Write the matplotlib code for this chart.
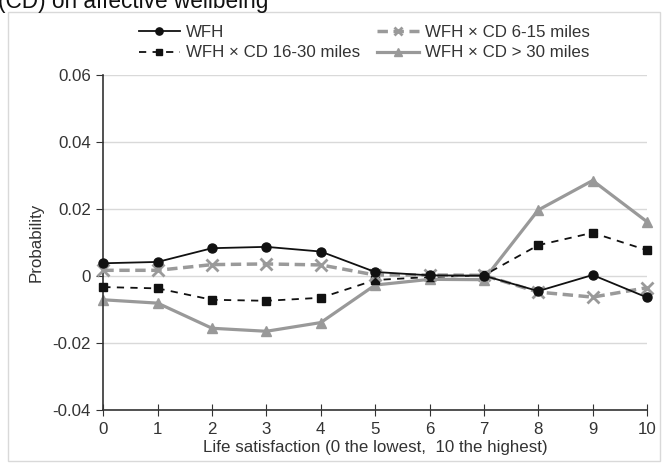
import matplotlib
matplotlib.use("Agg")
import matplotlib.pyplot as plt
from matplotlib.patches import Rectangle

plt.rcParams['font.family'] = ['Liberation Sans', 'DejaVu Sans']

x = list(range(11))
wfh = [0.0038, 0.0042, 0.0083, 0.0087, 0.0073, 0.0012, 0.0002, 0.0001, -0.0045, 0.0003, -0.0064]
cd_6_15 = [0.0017, 0.0017, 0.0034, 0.0036, 0.0033, 0.0003, 0.0003, 0.0002, -0.0048, -0.0063, -0.0035]
cd_16_30 = [-0.0033, -0.0037, -0.0071, -0.0074, -0.0065, -0.0012, -0.0003, 0.0002, 0.0092, 0.0129, 0.0077]
cd_30 = [-0.0071, -0.0081, -0.0156, -0.0165, -0.0139, -0.0027, -0.0010, -0.0011, 0.0197, 0.0285, 0.0162]
yticks = [-0.04, -0.02, 0, 0.02, 0.04, 0.06]
ytick_labels = ['-0.04', '-0.02', '0', '0.02', '0.04', '0.06']
xlabel = 'Life satisfaction (0 the lowest,  10 the highest)'
ylabel = 'Probability'
title = '(CD) on affective wellbeing'

fig = plt.figure(figsize=(6.62, 4.63), dpi=100)
fig.patch.set_facecolor('white')
fig.patches.append(Rectangle((8/662, 1-461/463), (660-8)/662, (461-12)/463,
                             transform=fig.transFigure, fill=False,
                             edgecolor='#d9d9d9', linewidth=1.0))
fig.text(-0.003, 1-8/463, title, fontsize=16.3, color='#111111', ha='left', va='baseline')

ax = fig.add_axes([103.3/662, 1-410/463, (647-103.3)/662, (410-75)/463])

l1, = ax.plot(x, wfh, color='#111111', lw=1.3, marker='o', ms=6.5, label='WFH', zorder=5)
l2, = ax.plot(x, cd_6_15, color='#9a9a9a', lw=2.5, ls=(0, (3, 1.6)), marker='x', ms=8, mew=2,
              label='WFH × CD 6-15 miles', zorder=4)
l3, = ax.plot(x, cd_16_30, color='#111111', lw=1.3, ls=(0, (4, 3.5)), marker='s', ms=6,
              label='WFH × CD 16-30 miles', zorder=3)
l4, = ax.plot(x, cd_30, color='#999999', lw=2.3, marker='^', ms=7, label='WFH × CD > 30 miles', zorder=2)

ax.set_xlim(0, 10)
ax.set_ylim(-0.04, 0.06)
ax.set_yticks(yticks)
ax.set_yticklabels(ytick_labels)
ax.set_xticks(x)
ax.grid(axis='y', color='#d9d9d9', lw=1)
ax.set_axisbelow(True)
for s in ['top', 'right']:
    ax.spines[s].set_visible(False)
for s in ['left', 'bottom']:
    ax.spines[s].set_color('#333333')
    ax.spines[s].set_linewidth(1.2)
ax.tick_params(axis='y', direction='out', length=5, color='#333333', labelsize=12.2, labelcolor='#333333', pad=4)
ax.tick_params(axis='x', direction='inout', length=8, color='#333333', labelsize=12.2, labelcolor='#333333', pad=5)
ax.set_xlabel(xlabel, fontsize=12.2, color='#333333')
ax.xaxis.set_label_coords(0.5, -(440 - 410) / (410 - 75))
ax.set_ylabel(ylabel, fontsize=12.2, color='#333333')
ax.yaxis.set_label_coords(-(103.3-44)/(647-103.3), (410-242)/(410-75))
for l in (l1, l2, l3, l4):
    l.set_clip_on(False)

handles = [l1, l3, l2, l4]
fig.legend(handles, [h.get_label() for h in handles],
           ncol=2, loc='center', bbox_to_anchor=(364/662, 1-42.5/463), frameon=False,
           fontsize=12.2, handlelength=2.45, columnspacing=1.0, labelspacing=0.35,
           handletextpad=0.35, markerscale=0.8, labelcolor='#333333')

fig.savefig('out.png', dpi=100)
